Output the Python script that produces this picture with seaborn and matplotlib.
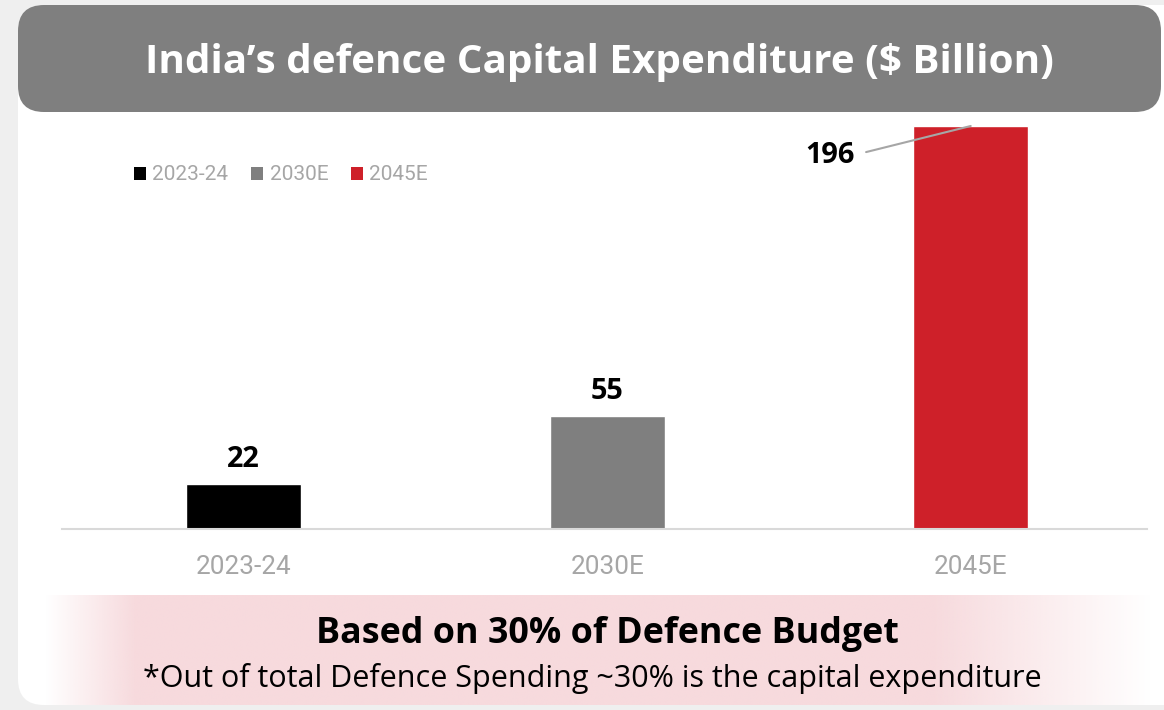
import numpy as np
import matplotlib
matplotlib.use("Agg")
import matplotlib.pyplot as plt
from matplotlib.patches import FancyBboxPatch, Patch
import seaborn as sns

# ---- data ----
categories = ["2023-24", "2030E", "2045E"]
values = [22, 55, 196]
bar_colors = ["#000000", "#7f7f7f", "#ce2029"]
title = "India\u2019s defence Capital Expenditure ($ Billion)"
footer_bold = "Based on 30% of Defence Budget"
footer_note = "*Out of total Defence Spending ~30% is the capital expenditure"

W, H = 1164, 710
sns.set_theme(style="white")
plt.rcParams["font.family"] = ["Open Sans", "DejaVu Sans"]

fig = plt.figure(figsize=(W / 100, H / 100), dpi=100)
fig.patch.set_facecolor("#efefef")

# background decorations in pixel coordinates
bg = fig.add_axes([0, 0, 1, 1], zorder=0)
bg.set_xlim(0, W)
bg.set_ylim(H, 0)
bg.axis("off")

card = FancyBboxPatch((18, 5), 1200, 700, boxstyle="round,pad=0,rounding_size=26",
                      facecolor="white", edgecolor="none", zorder=1)
bg.add_patch(card)
bar_title = FancyBboxPatch((18, 5), 1143, 107, boxstyle="round,pad=0,rounding_size=26",
                           facecolor="#7f7f7f", edgecolor="none", zorder=2)
bg.add_patch(bar_title)

# pink gradient band
xs = np.linspace(45, W, 600)
alpha = np.clip((xs - 45) / 90, 0, 1) * np.clip((W - 12 - xs) / 220, 0, 1)
rgba = np.zeros((1, xs.size, 4))
rgba[..., 0] = 0xf7 / 255
rgba[..., 1] = 0xda / 255
rgba[..., 2] = 0xdd / 255
rgba[..., 3] = alpha
im = bg.imshow(rgba, extent=(45, W, 705, 595), aspect="auto",
               interpolation="bilinear", zorder=3)
im.set_clip_path(card)

bg.text(599, 62, title, color="white", fontsize=29.1, fontweight="bold",
        ha="center", va="center", zorder=5)
bg.text(607, 634, footer_bold, color="black", fontsize=25.8, fontweight="bold",
        ha="center", va="center", zorder=5)
bg.text(592, 678, footer_note, color="black", fontsize=22,
        ha="center", va="center", zorder=5)

# main chart axes
left, right, top, base = 62, 1147, 126, 529
ax = fig.add_axes([left / W, (H - base) / H, (right - left) / W, (base - top) / H], zorder=1)
ax.patch.set_alpha(0)
sns.barplot(x=categories, y=values, hue=categories, palette=bar_colors,
            width=0.316, dodge=False, saturation=1, legend=False, ax=ax)
ax.set_xlim(-0.5, 2.485)
ax.set_ylim(0, 196)
ax.set_xlabel("")
ax.set_ylabel("")
ax.set_yticks([])
for s in ["top", "left", "right"]:
    ax.spines[s].set_visible(False)
ax.spines["bottom"].set_color("#d9d9d9")
ax.spines["bottom"].set_linewidth(1.5)
ax.tick_params(axis="x", length=0, pad=19, labelsize=18.8, labelcolor="#a6a6a6")
for lbl in ax.get_xticklabels():
    lbl.set_fontfamily(["Roboto", "DejaVu Sans"])

for i, v in enumerate(values[:2]):
    ax.annotate(str(v), (i, v), xytext=(0, 17.5), textcoords="offset points",
                ha="center", va="center", fontsize=20.8, fontweight="bold", color="black")
ax.annotate(str(values[2]), xy=(2, values[2]), xytext=(1.613, 181.5),
            textcoords="data", ha="center", va="center", fontsize=20.8,
            fontweight="bold", color="black", annotation_clip=False,
            arrowprops=dict(arrowstyle="-", color="#a6a6a6", lw=1.5,
                            shrinkA=6, shrinkB=0, relpos=(1, 0.5),
                            connectionstyle="angle,angleA=0,angleB=194,rad=0"))

handles = [Patch(facecolor=c, edgecolor="none") for c in bar_colors]
leg = fig.legend(handles, categories, loc="center left",
                 bbox_to_anchor=(134 / W, 1 - 175 / H), ncol=3, frameon=False,
                 handlelength=0.58, handleheight=0.58, handletextpad=0.3,
                 columnspacing=1.1, borderaxespad=0, borderpad=0,
                 prop={"family": ["Roboto", "DejaVu Sans"], "size": 15})
for t in leg.get_texts():
    t.set_color("#a6a6a6")

fig.savefig("out.png", dpi=100, facecolor=fig.get_facecolor())
